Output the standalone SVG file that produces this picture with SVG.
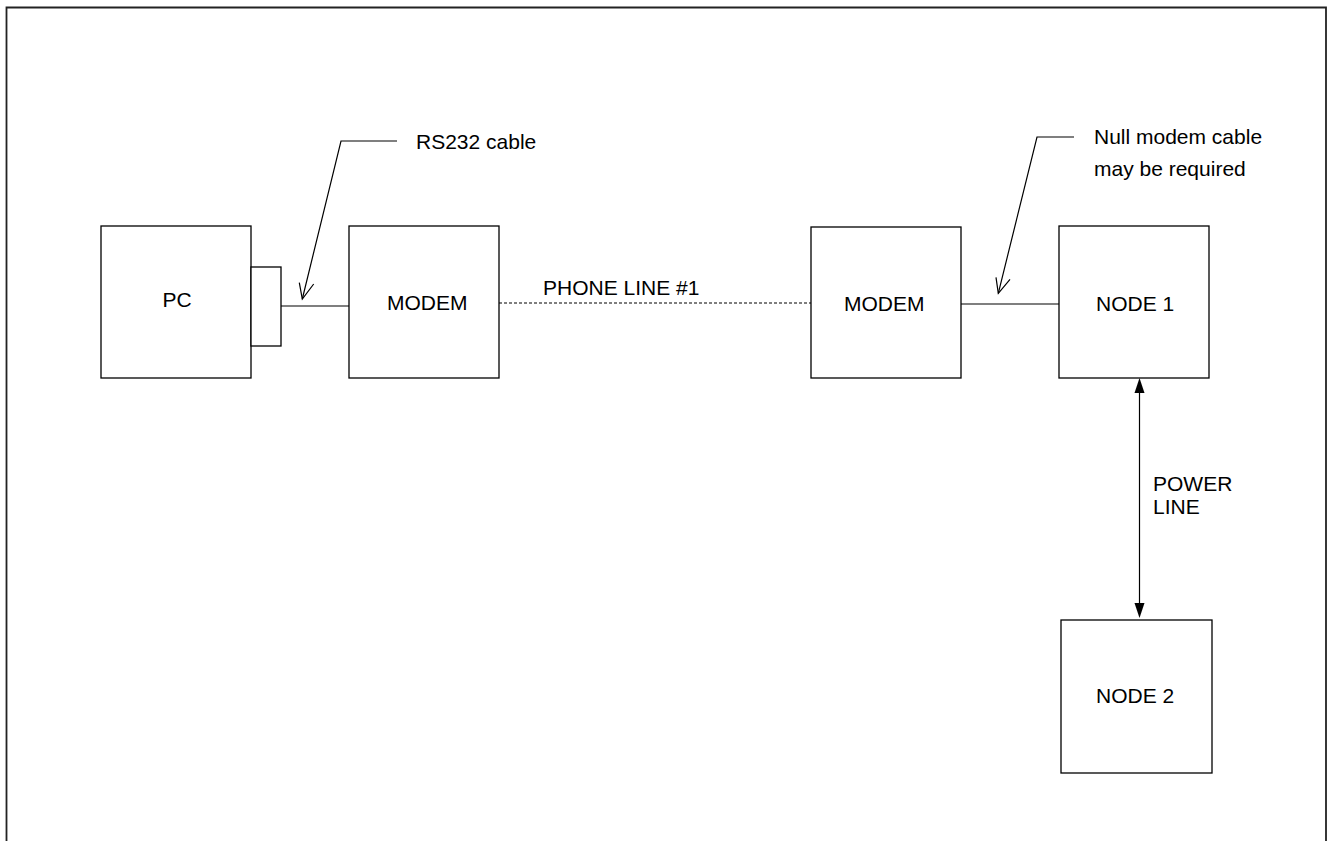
<svg xmlns="http://www.w3.org/2000/svg" width="1327" height="841" viewBox="0 0 1327 841">
<style>
.box{fill:#fff;stroke:#000;stroke-width:1.3}
.ln{fill:none;stroke:#000;stroke-width:1.2}
.t{font-family:"Liberation Sans",Arial,sans-serif;font-size:21px;fill:#000}
</style>
<defs>
<marker id="fa" viewBox="0 0 15 10" refX="15" refY="5" markerWidth="15" markerHeight="10" markerUnits="userSpaceOnUse" orient="auto">
<path d="M0,0 L15,5 L0,10 Z" fill="#000"/>
</marker>
</defs>
<rect width="1327" height="841" fill="#fff"/>
<polyline points="6.5,841 6.5,7.5 1326,7.5 1326,841" fill="none" stroke="#222" stroke-width="1.8"/>
<g id="connectors">
<line class="ln" x1="281" y1="306" x2="349" y2="306"/>
<line class="ln" x1="499" y1="303" x2="811" y2="303" stroke-dasharray="3,2"/>
<line class="ln" x1="961" y1="304" x2="1059" y2="304"/>
<line class="ln" x1="1139.5" y1="393" x2="1139.5" y2="603"/>
<path d="M1139.5,378 L1134.5,393 L1144.5,393 Z" fill="#000"/>
<path d="M1139.5,618 L1134.5,603 L1144.5,603 Z" fill="#000"/>
</g>
<g id="callout-rs232">
<polyline class="ln" points="397,141 341,141 302.3,299"/>
<polyline class="ln" points="299.3,282.7 302.3,299 313.7,284"/>
<text class="t" x="416" y="149">RS232 cable</text>
</g>
<g id="callout-null">
<polyline class="ln" points="1074,137 1037,137 998.3,293.3"/>
<polyline class="ln" points="996,277.3 998.3,293.3 1010,279.3"/>
<text class="t" x="1094" y="144">Null modem cable</text>
<text class="t" x="1094" y="176">may be required</text>
</g>
<g id="pc">
<rect class="box" x="101" y="226" width="150" height="152"/>
<text class="t" x="162.5" y="307">PC</text>
</g>
<g id="port">
<rect class="box" x="251" y="267" width="30" height="79"/>
</g>
<g id="modem1">
<rect class="box" x="349" y="226" width="150" height="152"/>
<text class="t" x="387" y="310">MODEM</text>
</g>
<g id="phone-label">
<text class="t" x="543" y="295">PHONE LINE #1</text>
</g>
<g id="modem2">
<rect class="box" x="811" y="227" width="150" height="151"/>
<text class="t" x="844" y="311">MODEM</text>
</g>
<g id="node1">
<rect class="box" x="1059" y="226" width="150" height="152"/>
<text class="t" x="1096" y="311">NODE 1</text>
</g>
<g id="power-label">
<text class="t" x="1153" y="491">POWER</text>
<text class="t" x="1153" y="514">LINE</text>
</g>
<g id="node2">
<rect class="box" x="1061" y="620" width="151" height="153"/>
<text class="t" x="1096" y="703">NODE 2</text>
</g>
</svg>
